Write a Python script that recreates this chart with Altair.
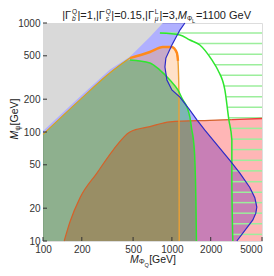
import altair as alt
import pandas as pd

# ---------------- data ----------------
x_ticks = [100, 200, 500, 1000, 2000, 5000]
y_ticks = [10, 20, 50, 100, 200, 500, 1000]

# gray (forbidden) region: above this boundary
gray_x = [100, 194, 331, 472, 675, 851]
gray_y = [102, 212, 375, 490, 745, 1000]

# blue region: left of this curve (x as a function of y)
blue_y = [10, 13.2, 15.6, 18, 20.5, 25, 31, 42, 55, 104, 129, 159, 209, 243, 300, 395, 477, 628, 862, 1000]
blue_x = [3190, 3812, 4246, 4478, 4558, 4398, 4023, 3366, 2816, 1802, 1563, 1379, 1154, 1000, 915, 883, 898, 1000, 1154, 1261]

# orange (peach) region: below this curve
orange_x = [100, 194, 331, 472, 675, 851, 1000, 1094, 1115, 1125, 1135, 1140]
orange_y = [95, 198, 350, 477, 542, 602, 602, 530, 450, 350, 200, 10]

# green region: below this curve
green_x = [100, 194, 331, 472, 675, 807, 965, 1113, 1217, 1307, 1379, 1429, 1468, 1507, 1535, 1550]
green_y = [95, 198, 350, 458, 430, 370, 300, 243, 197, 170, 137, 104, 85, 55, 24, 10]

# pink region: below this curve
pink_x = [146, 162, 194, 262, 349, 472, 675, 965, 1971, 2918, 5000]
pink_y = [10, 15, 25, 42, 68, 100, 112, 124, 128, 130, 133]

# second green contour (hatched to its right)
green2_x = [807, 1154, 1379, 1648, 2042, 2273, 2576, 2767, 2918, 2918, 2970]
green2_y = [809, 776, 698, 628, 458, 370, 243, 129, 85, 36, 10]

# hatch lines of the hatched region
hatch_y = [809, 647, 517, 414, 331, 264, 211, 169, 135, 108, 86, 69, 55, 44, 35, 28, 22.5, 18, 14.4, 11.5]
hatch_x = [807, 1592, 1936, 2155, 2356, 2527, 2640, 2717, 2767, 2870, 2918, 2918, 2918, 2918, 2918, 2930, 2950, 2970, 2970, 2970]

X_MIN, X_MAX = 100, 5000
Y_MIN, Y_MAX = 10, 1000

# ---------------- layout ----------------
W, H = 219, 218
FONT = "Liberation Sans"
TXT = "#222222"

xs = alt.Scale(type="log", domain=[X_MIN, X_MAX], nice=False)
ys = alt.Scale(type="log", domain=[Y_MIN, Y_MAX], nice=False)

xaxis = alt.Axis(values=x_ticks, format="d", title=None, ticks=False, domain=False, grid=False,
                 labelFont=FONT, labelFontSize=10, labelColor="#333333", labelPadding=3,
                 labelAlign={"condition": {"test": "datum.value >= 5000", "value": "right"}, "value": "center"})
yaxis = alt.Axis(values=y_ticks, format="d", title=None, ticks=False, domain=False, grid=False,
                 labelFont=FONT, labelFontSize=10, labelColor="#333333", labelPadding=3)


def enc_x(f="x"):
    return alt.X(f"{f}:Q", scale=xs, axis=xaxis)


def enc_y(f="y"):
    return alt.Y(f"{f}:Q", scale=ys, axis=yaxis)


def df(xv, yv, **extra):
    d = pd.DataFrame({"x": xv, "y": yv, "i": range(len(xv))})
    for k, v in extra.items():
        d[k] = v
    return d


layers = []

# blue region (horizontal area: x from X_MIN to curve)
layers.append(alt.Chart(df(blue_x, blue_y, x0=X_MIN)).mark_area(
    orient="horizontal", color="#0000ff", opacity=0.31).encode(
    y=enc_y(), x=enc_x(), x2="x0"))
# peach region
layers.append(alt.Chart(df(orange_x, orange_y, y0=Y_MIN)).mark_area(
    color="#ff9b48", opacity=0.3, interpolate="monotone").encode(x=enc_x(), y=enc_y(), y2="y0"))
# pink region
layers.append(alt.Chart(df(pink_x, pink_y, y0=Y_MIN)).mark_area(
    color="#ff0d0d", opacity=0.3, interpolate="monotone").encode(x=enc_x(), y=enc_y(), y2="y0"))
# green region
layers.append(alt.Chart(df(green_x, green_y, y0=Y_MIN)).mark_area(
    color="#00c000", opacity=0.29, interpolate="monotone").encode(x=enc_x(), y=enc_y(), y2="y0"))

# hatch lines
hd = pd.DataFrame({"x": hatch_x, "y": hatch_y, "x1": X_MAX})
layers.append(alt.Chart(hd).mark_rule(color="#9cee9c", strokeWidth=1.5).encode(
    x=enc_x(), x2="x1", y=enc_y()))

# gray region
layers.append(alt.Chart(df(gray_x, gray_y, y1=Y_MAX)).mark_area(
    color="#d9d9d9", opacity=1).encode(x=enc_x(), y=enc_y(), y2="y1"))


def line(xv, yv, color, width):
    return alt.Chart(df(xv, yv)).mark_line(color=color, strokeWidth=width, interpolate="monotone").encode(
        x=enc_x(), y=enc_y(), order="i:Q")


layers.append(line(pink_x[:10], pink_y[:10], "#d4622a", 1.2))
layers.append(line(pink_x[9:], pink_y[9:], "#f03a3a", 1.3))
layers.append(line(orange_x[:4], orange_y[:4], "#d8a21c", 1.2))
layers.append(line(orange_x[6:], orange_y[6:], "#eca033", 1.4))
layers.append(line(orange_x[3:9], orange_y[3:9], "#ff8a1c", 2.4))
layers.append(line(green_x[3:], green_y[3:], "#2ee62e", 1.5))
layers.append(line(green2_x, green2_y, "#2ee62e", 1.5))
layers.append(alt.Chart(df(blue_x, blue_y)).mark_line(color="#2b2bc8", strokeWidth=1.2).encode(
    x=enc_x(), y=enc_y(), order="i:Q"))

# inner ticks
layers.append(alt.Chart(pd.DataFrame({"t": x_ticks})).mark_rule(color="#333333", strokeWidth=1).encode(
    x=enc_x("t"), y=alt.value(H), y2=alt.value(H - 4)))
layers.append(alt.Chart(pd.DataFrame({"t": y_ticks})).mark_rule(color="#333333", strokeWidth=1).encode(
    y=enc_y("t"), x=alt.value(0), x2=alt.value(4)))

# ---------------- rich text (title and axis titles) ----------------
EM = {"|": 0.26, "Γ": 0.556, "=": 0.584, ",": 0.278, ".": 0.278, " ": 0.278, "M": 0.833,
      "G": 0.778, "e": 0.556, "V": 0.667, "Q": 0.722, "b": 0.556, "s": 0.5, "L": 0.556,
      "μ": 0.576, "Φ": 0.76, "ψ": 0.71, "[": 0.278, "]": 0.278}


def tw(s, size):
    return sum(EM.get(c, 0.556) for c in s) * size


def rich(pieces, size, small, tiny, gap=0.8, sub_dy=0.32, sup_dy=0.36):
    items, x = [], 0.0
    for kind, t in pieces:
        if kind in ("n", "it"):
            items.append((x, 0, t, size, "italic" if kind == "it" else "normal"))
            x += tw(t, size)
        elif kind == "sub":
            items.append((x, size * sub_dy, t, small, "normal"))
            x += tw(t, small)
        elif kind == "subsub":
            items.append((x, size * (sub_dy + 0.22), t, tiny, "normal"))
            x += tw(t, tiny) + gap
        elif kind == "subsup":
            sb, sp = t
            items.append((x + gap, size * sub_dy, sb, small, "italic"))
            items.append((x + gap, -size * sup_dy, sp, small, "normal"))
            x += max(tw(sb, small), tw(sp, small)) + 2 * gap
    return items, x


def text_layers(items, total, cx, cy, angle=0):
    out = []
    for (ox, oy, t, s, st) in items:
        if angle == 0:
            px, py = cx - total / 2 + ox, cy + oy
        else:
            px, py = cx + oy, cy + total / 2 - ox
        out.append(alt.Chart(alt.Data(values=[{}])).mark_text(
            text=t, font=FONT, fontSize=s, fontStyle=st, color=TXT, align="left",
            baseline="middle", angle=angle).encode(x=alt.value(px), y=alt.value(py)))
    return out


title_pieces = [("n", "|Γ"), ("subsup", ("b", "Q")), ("n", "|=1,|Γ"), ("subsup", ("s", "Q")),
                ("n", "|=0.15,|Γ"), ("subsup", ("μ", "L")), ("n", "|=3,"), ("it", "M"),
                ("sub", "Φ"), ("subsub", "L"), ("n", "=1100 GeV")]
items, total = rich(title_pieces, 11, 6.6, 5.5)
layers += text_layers(items, total, 114, -7.5)

xt_pieces = [("it", "M"), ("sub", "Φ"), ("subsub", "Q"), ("n", "[GeV]")]
items, total = rich(xt_pieces, 10.5, 7.5, 5.5, sub_dy=0.22)
layers += text_layers(items, total, 110, 237)

yt_pieces = [("it", "M"), ("sub", "ψ"), ("n", "[GeV]")]
items, total = rich(yt_pieces, 10.5, 7.5, 5.5, sub_dy=0.25)
layers += text_layers(items, total, -28, 96, angle=270)

chart = alt.layer(*layers).properties(
    width=W, height=H,
    autosize=alt.AutoSizeParams(type="none"),
    padding={"left": 35, "top": 15, "right": 4, "bottom": 27},
).configure_view(stroke="#333333", strokeWidth=1).configure(background="white")

chart.save("out.html", embed_options={"renderer": "svg", "actions": False})
